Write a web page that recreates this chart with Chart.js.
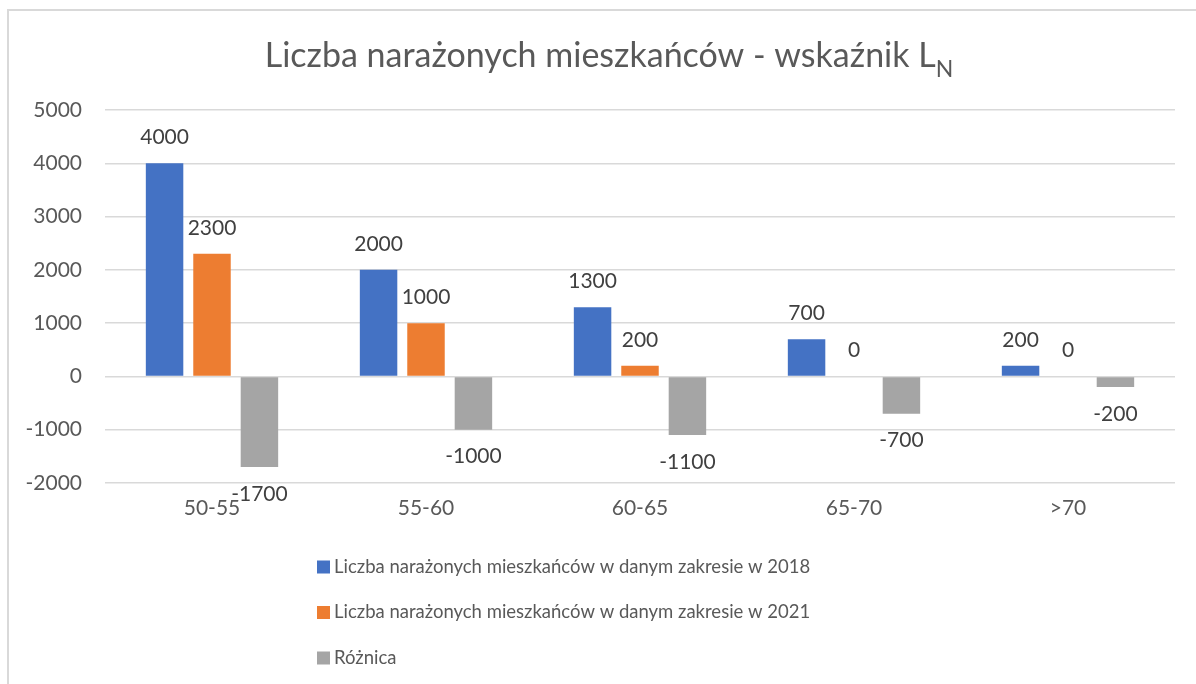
<!DOCTYPE html>
<html>
<head>
<meta charset="utf-8">
<script src="https://cdn.jsdelivr.net/npm/chart.js@4.4.1/dist/chart.umd.min.js"></script>
<style>
  html, body { margin: 0; padding: 0; background: #ffffff; overflow: hidden; }
  #wrap { position: relative; width: 1196px; height: 684px; }
  #frame { position: absolute; left: 7px; top: 9px; width: 1300px; height: 800px;
           border-left: 2px solid #d9d9d9; border-top: 2px solid #d9d9d9; }
  canvas { position: absolute; left: 0; top: 0; }
</style>
</head>
<body>
<div id="wrap">
  <div id="frame"></div>
  <canvas id="chart" width="1196" height="684"></canvas>
</div>
<script>
// dane
const kategorie = ['50-55', '55-60', '60-65', '65-70', '>70'];
const wartosci2018 = [4000, 2000, 1300, 700, 200];
const wartosci2021 = [2300, 1000, 200, 0, 0];
const roznica = [-1700, -1000, -1100, -700, -200];
const etykietySerii = [
  'Liczba narażonych mieszkańców w danym zakresie w 2018',
  'Liczba narażonych mieszkańców w danym zakresie w 2021',
  'Różnica',
];
const kolory = ['#4472c4', '#ed7d31', '#a5a5a5'];
const osY = { min: -2000, max: 5000, step: 1000 };

const FONT = 'Lato, "Open Sans", sans-serif';

// tytuł z indeksem dolnym
const tytulPlugin = {
  id: 'tytul',
  afterDraw(chart) {
    const ctx = chart.ctx;
    const main = 'Liczba narażonych mieszkańców - wskaźnik L';
    const sub = 'N';
    ctx.save();
    ctx.fillStyle = '#595959';
    ctx.textBaseline = 'alphabetic';
    ctx.font = '34px ' + FONT;
    const w1 = ctx.measureText(main).width;
    ctx.font = '23px ' + FONT;
    const w2 = ctx.measureText(sub).width;
    const x0 = 609 - (w1 + w2) / 2;
    ctx.font = '34px ' + FONT;
    ctx.textAlign = 'left';
    ctx.fillText(main, x0, 67);
    ctx.font = '23px ' + FONT;
    ctx.fillText(sub, x0 + w1, 77);
    ctx.restore();
  },
};

// etykiety wartości nad / pod słupkami
const etykietyPlugin = {
  id: 'etykiety',
  afterDatasetsDraw(chart) {
    const ctx = chart.ctx;
    ctx.save();
    ctx.font = '21px ' + FONT;
    ctx.fillStyle = '#404040';
    ctx.textAlign = 'center';
    ctx.textBaseline = 'middle';
    chart.data.datasets.forEach((ds, i) => {
      const meta = chart.getDatasetMeta(i);
      meta.data.forEach((bar, j) => {
        const v = ds.data[j];
        const y = v < 0 ? bar.y + 27 : bar.y - 26;
        ctx.fillText(String(v), bar.x, y);
      });
    });
    ctx.restore();
  },
};

// legenda pionowa pod wykresem
const legendaPlugin = {
  id: 'legendaPionowa',
  afterDraw(chart) {
    const ctx = chart.ctx;
    ctx.save();
    ctx.font = '18.5px ' + FONT;
    ctx.textBaseline = 'middle';
    ctx.textAlign = 'left';
    chart.data.datasets.forEach((ds, i) => {
      const y = 567 + i * 45.5;
      ctx.fillStyle = ds.backgroundColor;
      ctx.fillRect(317, y - 6.5, 13, 13);
      ctx.fillStyle = '#595959';
      ctx.fillText(ds.label, 334, y);
    });
    ctx.restore();
  },
};

new Chart(document.getElementById('chart').getContext('2d'), {
  type: 'bar',
  data: {
    labels: kategorie,
    datasets: [
      { label: etykietySerii[0], data: wartosci2018, backgroundColor: kolory[0] },
      { label: etykietySerii[1], data: wartosci2021, backgroundColor: kolory[1] },
      { label: etykietySerii[2], data: roznica, backgroundColor: kolory[2] },
    ],
  },
  options: {
    responsive: false,
    animation: false,
    devicePixelRatio: 1,
    layout: { padding: { top: 110, right: 21, bottom: 161, left: 0 } },
    datasets: {
      bar: { categoryPercentage: 0.665, barPercentage: 0.79, borderWidth: 0 },
    },
    plugins: {
      legend: { display: false },
      title: { display: false },
      tooltip: { enabled: false },
    },
    scales: {
      x: {
        grid: { display: false, drawTicks: false },
        border: { display: false },
        ticks: { color: '#595959', font: { family: FONT, size: 21 }, padding: 13 },
        afterFit: (scale) => { scale.height = 40; },
      },
      y: {
        min: osY.min,
        max: osY.max,
        ticks: {
          stepSize: osY.step,
          color: '#595959',
          font: { family: FONT, size: 21 },
          padding: 23,
          callback: (v) => String(v),
        },
        grid: { color: '#d9d9d9', lineWidth: 1.5, drawTicks: false },
        border: { display: false },
        afterFit: (scale) => { scale.width = 105; },
      },
    },
  },
  plugins: [tytulPlugin, etykietyPlugin, legendaPlugin],
});
</script>
</body>
</html>
